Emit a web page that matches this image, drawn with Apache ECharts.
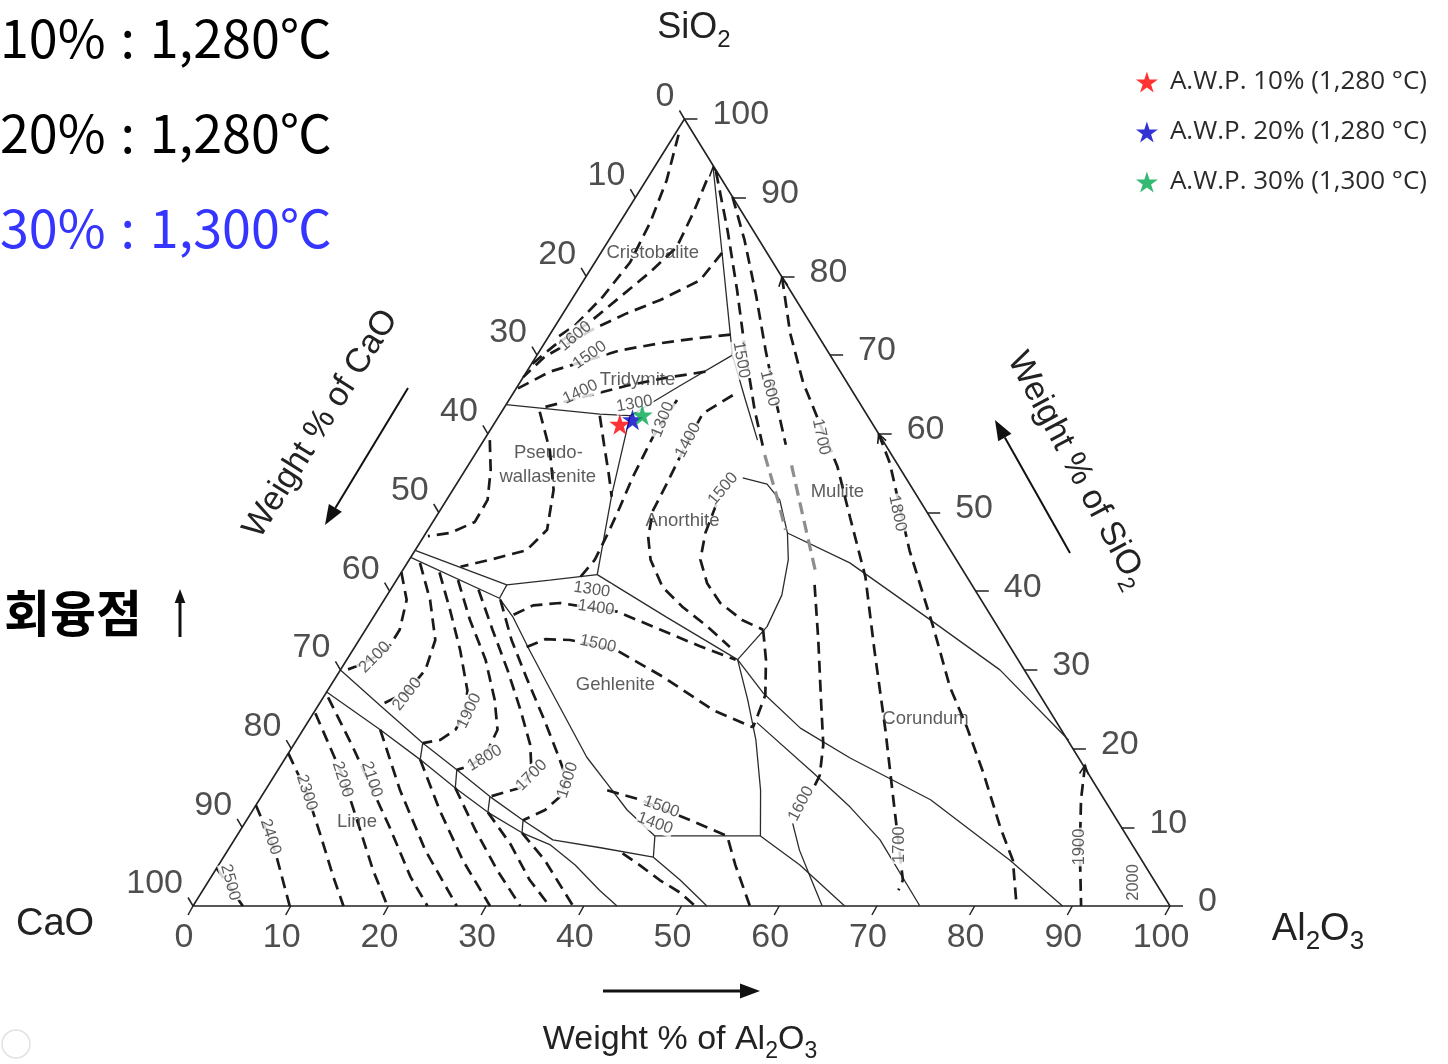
<!DOCTYPE html>
<html lang="ko">
<head>
<meta charset="utf-8">
<title>CaO–Al2O3–SiO2</title>
<script src="https://cdn.jsdelivr.net/npm/echarts@6/dist/echarts.min.js"></script>
<style>
html,body{margin:0;padding:0;background:#fff;}
#chart{width:1448px;height:1064px;}
</style>
</head>
<body>
<div id="chart"></div>
<script>
// Compositions are [Al2O3 wt%, SiO2 wt%]; CaO is the remainder.

// Samples: A.W.P. ratio and fusion temperature
const awpRatios = ['10%', '20%', '30%'];
const awpTemps = [1280, 1280, 1300];
const awpComps = [[12.9, 61.2], [13.9, 61.8], [14.6, 62.4]];

const axisTicks = [0, 10, 20, 30, 40, 50, 60, 70, 80, 90, 100];

// ---- primary-phase field boundaries ----
const bTrdPwo   = [[0,63.7],[5.9,63.0],[10.2,62.5],[13.4,62.3]];
const bTrdAn    = [[13.4,62.3],[16.6,66.1],[20.0,70.0]];
const bSilMul   = [[6.0,93.9],[12.4,83.0],[20.0,70.0],[24.2,64.3],[28.0,59.2]];
const bPwoAn    = [[13.4,62.3],[16.6,52.2],[20.2,42.1]];
const bPwoGeh   = [[20.2,42.1],[15.7,41.4],[11.6,40.8]];
const bRnkUpper = [[0,45.2],[11.6,40.8]];
const bRnkLower = [[0,44.3],[11.7,39.1]];
const bRnkEnd   = [[11.6,40.8],[11.7,39.1]];
const bC2sGeh   = [[11.7,39.1],[14.3,36.7],[18.1,32.5],[22.0,28.3],[26.4,23.6],[30.8,18.9],[34.5,15.6],[38.3,12.2],[42.8,8.9]];
const bGehCA    = [[42.8,8.9],[53.6,8.9]];
const bGehCor   = [[53.6,8.9],[50.7,14.7],[47.0,21.1],[43.6,26.2],[40.0,31.3]];
const bAnGeh    = [[20.2,42.1],[30.0,36.7],[40.0,31.3]];
const bAnMul    = [[40.0,31.3],[40.9,35.5],[40.4,39.5],[38.8,44.0],[37.0,47.4],[34.1,51.6],[31.8,53.6],[28.9,54.4]];
const bMulCor   = [[37.0,47.4],[45.3,43.6],[57.6,36.1],[67.5,30.0],[79.0,21.1]];
const bCorCA6   = [[40.0,31.3],[44.7,27.1],[50.8,22.6],[57.8,18.8],[68.7,13.5],[80.7,5.8],[89.0,0]];
const bCA6CA2   = [[46.0,23.3],[55.0,16.9],[60.9,12.6],[66.1,8.4],[74.4,0]];
const bCA2CA    = [[53.6,8.9],[59.5,5.2],[66.7,0]];
const bC3sC2s   = [[0,30.0],[6.3,25.5],[13.1,20.7],[18.3,17.3],[23.4,13.9],[28.3,10.9],[32.6,8.4],[38.0,7.4],[44.0,6.2]];
const bC3sLime  = [[0,27.2],[7.9,22.4],[13.9,18.6],[19.3,15.0],[24.2,11.9],[29.0,9.3],[32.6,7.8],[36.5,5.2],[40.6,2.0],[43.4,0]];
const bGehStep  = [[42.8,8.9],[44.0,6.2]];
const bC12A7    = [[44.0,6.2],[48.2,3.3],[52.6,0]];
const bCA1600   = [[56.1,10.5],[58.5,7.1],[61.4,3.6],[64.4,0]];
// isotherm crossings of the narrow C3S band
const xC3s1900 = [[13.1,20.7],[13.9,18.6]];
const xC3s1800 = [[18.3,17.3],[19.3,15.0]];
const xC3s1700 = [[23.4,13.9],[24.2,11.9]];
const xC3s1600 = [[28.3,10.9],[29.0,9.3]];

// ---- liquidus isotherms (°C) ----
const isoCrA   = [[0.4,98.0],[2.1,92.2],[3.1,86.9],[3.6,81.8],[3.0,77.4],[2.0,73.8],[0.7,71.9]];
const isoCrB   = [[6.2,92.2],[6.9,88.1],[7.4,83.7],[6.3,80.6],[4.8,77.4],[3.3,74.2],[1.2,71.3],[0,68.7]];
const iso1600S = [[12.4,83.0],[11.9,79.5],[9.1,77.0],[6.5,75.3],[4.2,73.4],[0.9,69.8],[0,67.2]];
const iso1500S = [[18.5,72.6],[15.6,72.2],[11.8,71.5],[8.2,70.6],[2.4,67.9],[0,65.6]];
const iso1400S = [[18.3,67.9],[14.6,67.1],[11.4,66.2],[4.1,63.4]];
const iso1500M = [[6.6,93.3],[11.5,85.9],[16.3,78.3],[21.0,70.6],[25.8,63.0],[29.3,57.9]];
const iso1600M = [[9.9,90.1],[13.9,84.6],[18.6,77.6],[23.1,70.6],[27.3,64.3],[31.2,58.6]];
const iso1700  = [[20.1,79.9],[24.5,72.8],[29.0,66.5],[37.9,55.8],[42.4,49.4],[47.8,41.8],[53.4,32.5],[59.6,22.4],[64.9,13.5],[71.0,3.3],[71.2,2.0]];
const iso1800  = [[40.0,60.0],[43.0,56.3],[50.6,45.2],[57.9,35.5],[63.5,27.8],[67.8,22.7],[72.4,16.9],[77.6,10.0],[81.0,5.8],[84.3,0]];
const iso1900  = [[82.3,17.9],[84.1,13.5],[87.2,7.1],[90.9,0]];
const iso1600K = [[43.1,40.8],[47.0,33.8],[51.1,26.2],[54.2,20.5],[55.8,16.6],[56.0,14.7]];
const iso1500K = [[40.7,35.1],[42.9,31.3],[45.1,26.8],[45.6,24.3],[45.9,22.7]];
const iso1300A = [[17.2,64.3],[17.1,59.6],[17.6,54.5],[18.2,50.7],[18.6,47.8],[19.0,44.0],[18.6,41.7]];
const iso1400A = [[22.6,64.9],[20.7,62.6],[20.9,59.2],[21.5,53.7],[21.8,50.3],[23.0,46.9],[24.7,44.0],[27.7,40.5],[31.0,38.0],[34.8,35.5],[38.4,32.9]];
const iso1500A = [[27.9,51.0],[28.6,47.4],[29.8,44.0],[32.0,41.0],[34.6,38.5],[38.0,36.3],[40.7,35.1]];
const iso1300P = [[10.3,62.3],[12.6,58.6],[15.0,54.8],[16.7,52.0]];
const iso1500P = [[0.6,59.2],[2.6,55.4],[4.2,51.6],[4.3,48.8],[2.5,47.4],[0.4,47.0]];
const iso1400P = [[3.9,62.8],[7.4,57.9],[10.3,52.9],[12.2,47.8],[11.4,45.2],[8.3,44.0],[5.7,43.1]];
const iso1400G = [[14.2,37.0],[15.6,38.2],[18.2,38.5],[24.6,37.4],[30.2,35.1],[35.3,33.0],[39.8,31.3]];
const iso1500G = [[17.6,32.9],[19.0,33.9],[21.6,33.8],[27.0,32.5],[33.5,29.1],[40.7,24.9],[45.9,22.7]];
const iso1500B = [[35.0,14.7],[39.0,13.5],[45.4,10.9],[50.2,8.9],[52.9,5.2],[57.0,0]];
const iso1400B = [[40.6,6.7],[43.1,5.2],[46.1,3.3],[49.0,1.7],[51.4,0]];
const iso2100C = [[0,42.4],[2.3,38.9],[3.5,35.1],[3.5,32.8],[2.7,31.6],[1.3,30.4],[0.3,29.8]];
const iso2000C = [[1.3,43.6],[4.7,38.9],[7.8,33.8],[8.7,30.0],[8.2,27.2],[6.3,25.5]];
const iso1900C = [[3.9,42.4],[7.4,37.6],[11.0,32.5],[14.3,27.4],[15.5,24.6],[15.6,22.4],[14.7,21.1],[13.1,20.7]];
const iso1800C = [[6.3,41.4],[10.1,36.3],[14.2,31.3],[17.7,26.2],[19.9,22.4],[20.3,19.1],[19.4,17.8],[18.3,17.3]];
const iso1700C = [[9.0,40.2],[13.0,35.1],[17.1,30.0],[21.0,24.9],[24.2,20.5],[26.1,17.0],[25.9,15.0],[23.4,13.9]];
const iso1600C = [[11.9,38.9],[15.6,33.8],[19.8,28.7],[24.1,23.6],[27.7,19.2],[30.0,16.3],[30.6,13.9],[29.9,12.2],[28.3,10.9]];
const iso2500  = [[0,4.8],[5.1,0]];
const iso2400  = [[0,12.8],[4.8,7.1],[9.9,0]];
const iso2300  = [[0,19.4],[4.4,14.4],[8.3,9.3],[12.5,3.7],[15.4,0]];
const iso2200  = [[0.2,24.5],[7.1,16.4],[12.0,10.0],[16.1,4.6],[19.9,0]];
const iso2100L = [[0.5,26.5],[6.2,20.2],[15.1,10.0],[20.4,3.7],[24.0,0]];
const iso2000L = [[7.9,22.4],[13.8,14.7],[20.2,7.1],[27.0,0]];
const iso1900L = [[13.9,18.6],[19.1,12.2],[24.7,5.8],[30.4,0]];
const iso1800L = [[19.3,15.0],[24.0,9.7],[28.8,4.6],[33.5,0]];
const iso1700L = [[24.2,11.9],[28.6,7.8],[32.8,3.3],[36.5,0]];
const iso1600L = [[29.0,9.3],[33.1,5.8],[38.9,0]];

// metastable continuation (grey)
const metaA = [[29.7,57.3],[33.9,51.6],[36.6,47.8]];
const metaB = [[33.1,56.0],[37.4,49.7],[42.2,42.7]];

// isotherm labels [Al2O3, SiO2, °C]
const isoLabels = [
  [2.7,72.4,'1600'],[5.4,70.0,'1500'],[6.8,65.3,'1400'],[13.1,63.8,'1300'],
  [17.0,61.8,'1300'],[20.9,59.2,'1400'],[27.6,53.0,'1500'],
  [21.2,69.4,'1500'],[25.9,65.8,'1600'],[34.3,59.6,'1700'],[47.0,49.9,'1800'],
  [68.4,7.8,'1700'],[87.0,7.5,'1900'],[94.8,3.0,'2000'],[55.7,13.0,'1600'],
  [41.6,12.6,'1500'],[42.0,10.5,'1400'],[20.6,40.2,'1300'],[22.2,37.9,'1400'],[24.7,33.3,'1500'],
  [30.3,16.0,'1600'],[26.3,16.6,'1700'],[20.4,18.8,'1800'],[15.8,24.8,'1900'],[8.4,26.9,'2000'],[2.7,31.6,'2100'],
  [10.2,16.1,'2100'],[7.2,16.1,'2200'],[4.4,14.4,'2300'],[3.5,8.8,'2400'],[2.3,3.0,'2500']
];
const isoLabelAngles = [40,35,25,10, 68,62,50, -80,-76,-78,-78, 90,90,90,62,
  -20,-20,-8,-8,-12, 72,45,30,65,52,45, -72,-72,-72,-72,-75];

// primary phase names
const fieldNames = [
  [5.3,83.0,'Cristobalite'],[11.9,66.8,'Tridymite'],[7.4,57.6,'Pseudo-'],[8.9,54.5,'wallastenite'],
  [25.5,48.9,'Anorthite'],[39.5,52.6,'Mullite'],[29.1,28.1,'Gehlenite'],[63.0,23.8,'Corundum'],[11.4,10.7,'Lime']
];

// ---------------------------------------------------------------
const boundaries = [bTrdPwo,bTrdAn,bSilMul,bPwoAn,bPwoGeh,bRnkUpper,bRnkLower,bRnkEnd,bC2sGeh,bGehCA,
  bGehCor,bAnGeh,bAnMul,bMulCor,bCorCA6,bCA6CA2,bCA2CA,bC3sC2s,bC3sLime,bGehStep,bC12A7,bCA1600,
  xC3s1900,xC3s1800,xC3s1700,xC3s1600];
const isotherms = [isoCrA,isoCrB,iso1600S,iso1500S,iso1400S,iso1500M,iso1600M,iso1700,iso1800,iso1900,
  iso1600K,iso1500K,iso1300A,iso1400A,iso1500A,iso1300P,iso1500P,iso1400P,iso1400G,iso1500G,iso1500B,iso1400B,
  iso2100C,iso2000C,iso1900C,iso1800C,iso1700C,iso1600C,
  iso2500,iso2400,iso2300,iso2200,iso2100L,iso2000L,iso1900L,iso1800L,iso1700L,iso1600L];
const metastable = [metaA, metaB];
// lines that carry an arrowhead at their first point
const arrowed = [bSilMul, iso1700, iso1800, iso1900];

const K = 0.503;                // apex offset along the base
const PX_X = 9.77, PX_Y = 7.87; // pixels per axis unit
const cart = p => [p[0] + K * p[1], p[1]];
const pxOff = (p, dx, dy) => [p[0] + dx / PX_X, p[1] - dy / PX_Y];
const fmt = n => String(n).replace(/\B(?=(\d{3})+(?!\d))/g, ',');

const SOLID = {color:'#2b2b2b', width:1.3, type:'solid'};
const DASH  = {color:'#1a1a1a', width:2.7, type:[12,7]};
const GREY  = {color:'#8e8e8e', width:3.2, type:[12,7]};
const STAR = 'path://M50,0 L61.2,34.5 L97.6,34.5 L68.2,55.9 L79.4,90.5 L50,69.1 L20.6,90.5 L31.8,55.9 L2.4,34.5 L38.8,34.5 Z';
const SANS = "'Liberation Sans', Arial, sans-serif";

function poly(pts, style) {
  return {type:'line', data: pts.map(cart), symbol:'none', silent:true, clip:false,
          animation:false, lineStyle: style, z: 2};
}
function textSeries(items, label, z) {
  return {type:'scatter', symbolSize:0, silent:true, clip:false, animation:false, z: z || 4,
          data: items, label: Object.assign({show:true}, label)};
}
// small open arrowhead at the start of a line, pointing outward
function chevron(pts) {
  const tip = cart(pts[0]), prev = cart(pts[1]);
  let dx = (tip[0] - prev[0]) * PX_X, dy = -(tip[1] - prev[1]) * PX_Y;
  const L = Math.hypot(dx, dy); dx /= L; dy /= L;
  const back = 9, half = 4.5;
  return [pxOff(tip, -dx * back - dy * half, -dy * back + dx * half), tip,
          pxOff(tip, -dx * back + dy * half, -dy * back - dx * half)];
}

const series = [];
series.push(poly([[0,0],[100,0],[0,100],[0,0]], {color:'#222', width:1.6}));
boundaries.forEach(b => series.push(poly(b, SOLID)));
metastable.forEach(m => series.push(poly(m, GREY)));
isotherms.forEach(d => series.push(poly(d, DASH)));
series.push({type:'lines', coordinateSystem:'cartesian2d', polyline:true, silent:true, clip:false, animation:false, z:3,
  data: arrowed.map(a => ({coords: chevron(a)})), lineStyle:{color:'#1a1a1a', width:1.6, opacity:1}});

// axis ticks on the three sides
const tickSegs = [];
axisTicks.forEach(v => {
  const r = cart([100 - v, v]); tickSegs.push([r, pxOff(r, 13, 0)]);
  const l = cart([0, 100 - v]); tickSegs.push([l, pxOff(l, -5, -8.5)]);
  const b = cart([v, 0]);       tickSegs.push([b, pxOff(b, -5, 9)]);
});
series.push({type:'lines', coordinateSystem:'cartesian2d', silent:true, clip:false, animation:false, z:3,
  data: tickSegs.map(c => ({coords: c})), lineStyle:{color:'#222', width:1.5, opacity:1}});

const tickFont = {fontSize:34, color:'#222', fontFamily:SANS};
series.push(textSeries(axisTicks.map(v => ({value: cart([100 - v, v]), label:{formatter: String(v)}})),
  Object.assign({position:[28,-4], align:'left', verticalAlign:'middle'}, tickFont)));
series.push(textSeries(axisTicks.map(v => ({value: cart([0, 100 - v]), label:{formatter: String(v)}})),
  Object.assign({position:[-10,-22], align:'right', verticalAlign:'middle'}, tickFont)));
series.push(textSeries(axisTicks.map(v => ({value: cart([v, 0]), label:{formatter: String(v)}})),
  Object.assign({position:[-9,32], align:'center', verticalAlign:'middle'}, tickFont)));

// isotherm temperatures
series.push(textSeries(isoLabels.map((t, i) => ({value: cart(t), label:{formatter: t[2], rotate: isoLabelAngles[i]}})),
  {position:[0,0], align:'center', verticalAlign:'middle', fontSize:16.5, color:'#333', fontFamily:SANS,
   backgroundColor:'#fff', padding:[0,1]}, 5));
// field names
series.push(textSeries(fieldNames.map(t => ({value: cart(t), label:{formatter: t[2]}})),
  {position:[0,0], align:'center', verticalAlign:'middle', fontSize:18.5, color:'#333', fontFamily:SANS}, 5));

// sample points
const legendNames = awpRatios.map((r, i) => 'A.W.P. ' + r + ' (' + fmt(awpTemps[i]) + ' °C)');
const awpColors = ['#ff0000', '#0000c8', '#00a84f'];
awpComps.forEach((c, i) => series.push({type:'scatter', name: legendNames[i], data:[cart(c)],
  symbol: STAR, symbolSize: 21, itemStyle:{color: awpColors[i]}, z: 8, clip:false, animation:false}));

// page texts and arrows
const rich = (size, color) => ({
  m: {fontSize:size, fontFamily:SANS, fill:color, lineHeight:size + 12, verticalAlign:'middle'},
  s: {fontSize:Math.round(size * 0.68), fontFamily:SANS, fill:color, lineHeight:Math.round(size * 0.68), verticalAlign:'bottom'}
});
function chemText(x, y, text, size, rot) {
  return {type:'text', x:x, y:y, rotation: rot || 0, z:10,
    style:{text:text, rich:rich(size, '#222'), align:'center', verticalAlign:'middle',
           textAlign:'center', textVerticalAlign:'middle'}};
}
function arrow(x1, y1, x2, y2, w, head) {
  const L = Math.hypot(x2 - x1, y2 - y1), ux = (x2 - x1) / L, uy = (y2 - y1) / L;
  const bx = x2 - ux * head, by = y2 - uy * head, nx = -uy * head * 0.38, ny = ux * head * 0.38;
  return [
    {type:'line', z:10, shape:{x1:x1, y1:y1, x2:bx, y2:by}, style:{stroke:'#111', lineWidth:w}},
    {type:'polygon', z:10, shape:{points:[[x2,y2],[bx+nx,by+ny],[bx-nx,by-ny]]}, style:{fill:'#111'}}
  ];
}

const headColors = ['#000', '#000', '#3535ff'];
const graphic = [];
awpRatios.forEach((r, i) => graphic.push({type:'text', x:0, y:38 + 95 * i, z:10,
  style:{text: r + ' \u200A:\u200A ' + fmt(awpTemps[i]) + '℃', font:"400 52px 'Noto Sans CJK KR', 'Noto Sans', sans-serif",
         fill: headColors[i], align:'left', verticalAlign:'middle', textAlign:'left', textVerticalAlign:'middle'}}));
graphic.push({type:'text', x:4, y:613, z:10, style:{text:'회융점', font:"700 50px 'Noto Sans CJK KR', sans-serif",
  fill:'#000', align:'left', verticalAlign:'middle', textAlign:'left', textVerticalAlign:'middle'}});
graphic.push(...arrow(180, 637, 180, 589, 3, 14));
graphic.push(chemText(694, 28, '{m|SiO}{s|2}', 36));
graphic.push(chemText(55, 925, '{m|CaO}', 38));
graphic.push(chemText(1318, 930, '{m|Al}{s|2}{m|O}{s|3}', 38));
graphic.push(chemText(680, 1040, '{m|Weight % of Al}{s|2}{m|O}{s|3}', 34));
graphic.push(chemText(321, 424, '{m|Weight % of CaO}', 34, 58 * Math.PI / 180));
graphic.push(chemText(1077, 470, '{m|Weight % of SiO}{s|2}', 34, -62 * Math.PI / 180));
graphic.push(...arrow(603, 991, 760, 991, 3, 20));
graphic.push(...arrow(408, 388, 325, 525, 2, 20));
graphic.push(...arrow(1070, 553, 995, 420, 2, 20));
graphic.push({type:'circle', z:10, shape:{cx:16, cy:1044, r:14}, style:{fill:'none', stroke:'#e2e2e2', lineWidth:1.5}});

const chart = echarts.init(document.getElementById('chart'));
chart.setOption({
  animation: false,
  backgroundColor: '#fff',
  grid: {left:193, top:119, width:977, height:787},
  xAxis: {type:'value', min:0, max:100, show:false},
  yAxis: {type:'value', min:0, max:100, show:false},
  legend: {data: legendNames.map(n => ({name:n, icon:STAR})), orient:'vertical', right:16, top:64,
    itemWidth:22, itemHeight:22, itemGap:24, selectedMode:false,
    textStyle:{fontSize:26, lineHeight:26, color:'#2a2a2a', padding:[0,0,0,7],
               fontFamily:"'Open Sans', 'Noto Sans', sans-serif"}},
  graphic: graphic,
  series: series
});
</script>
</body>
</html>
